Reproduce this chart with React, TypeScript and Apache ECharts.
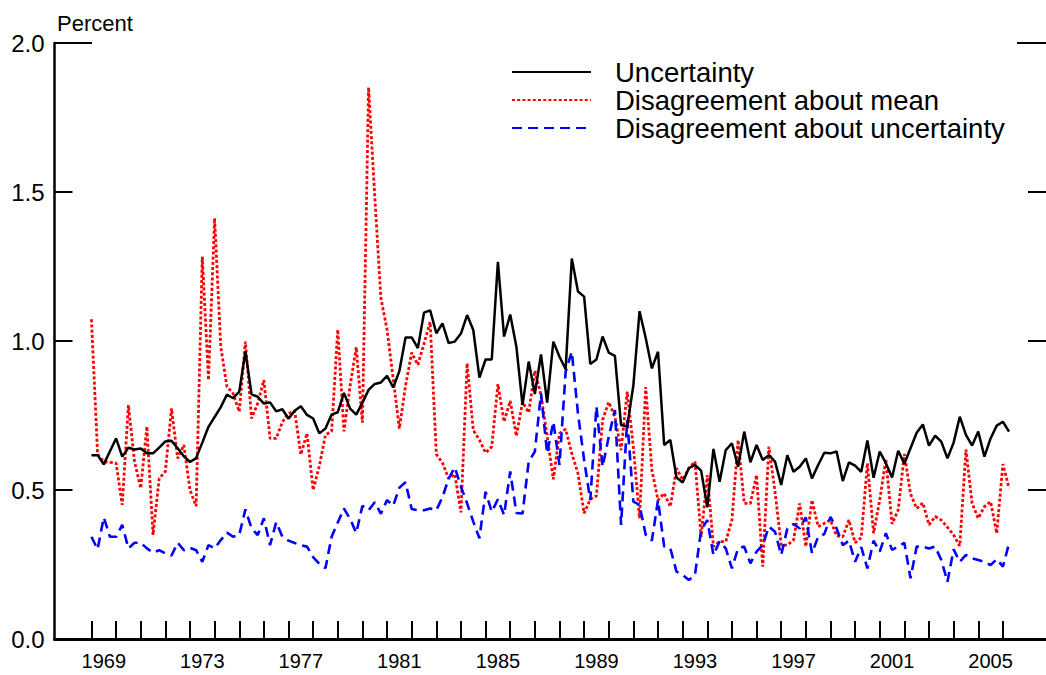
import React, { useEffect, useRef } from "react";
import * as echarts from "echarts";

const FONT = "'Liberation Sans', Arial, Helvetica, sans-serif";
const START_YEAR = 1969;

// Quarterly values, 1969Q1 .. 2006Q2 (percent)
const uncertainty = [
  0.617, 0.617, 0.586, 0.63, 0.673, 0.612, 0.642, 0.636, 0.639, 0.623,
  0.623, 0.642, 0.663, 0.665, 0.64, 0.613, 0.594, 0.607, 0.659, 0.712,
  0.745, 0.778, 0.82, 0.808, 0.83, 0.965, 0.821, 0.813, 0.79, 0.794,
  0.764, 0.771, 0.739, 0.766, 0.781, 0.752, 0.74, 0.69, 0.706, 0.753,
  0.761, 0.826, 0.773, 0.753, 0.793, 0.836, 0.856, 0.861, 0.883, 0.844,
  0.899, 1.012, 1.012, 0.976, 1.095, 1.103, 1.026, 1.059, 0.993, 0.998,
  1.025, 1.087, 1.037, 0.877, 0.938, 0.938, 1.266, 1.015, 1.089, 0.981,
  0.785, 0.931, 0.822, 0.955, 0.793, 0.998, 0.947, 0.905, 1.277, 1.166,
  1.149, 0.923, 0.938, 1.015, 0.961, 0.95, 0.718, 0.713, 0.852, 1.1,
  1.01, 0.908, 0.964, 0.651, 0.668, 0.542, 0.525, 0.573, 0.584, 0.565,
  0.442, 0.638, 0.528, 0.634, 0.657, 0.578, 0.696, 0.593, 0.651, 0.601,
  0.617, 0.595, 0.517, 0.617, 0.561, 0.578, 0.606, 0.539, 0.584, 0.625,
  0.623, 0.629, 0.53, 0.593, 0.582, 0.561, 0.666, 0.541, 0.629, 0.59,
  0.542, 0.632, 0.588, 0.64, 0.692, 0.72, 0.649, 0.682, 0.662, 0.606,
  0.659, 0.746, 0.685, 0.649, 0.696, 0.612, 0.673, 0.716, 0.729, 0.696,
];

const disagreementMean = [
  1.073, 0.62, 0.595, 0.593, 0.59, 0.45, 0.785, 0.595, 0.506, 0.713,
  0.349, 0.539, 0.562, 0.774, 0.606, 0.651, 0.5, 0.446, 1.283, 0.869,
  1.412, 0.981, 0.847, 0.824, 0.763, 0.998, 0.74, 0.791, 0.869, 0.673,
  0.673, 0.728, 0.757, 0.765, 0.619, 0.69, 0.5, 0.58, 0.685, 0.697,
  1.038, 0.697, 0.85, 0.979, 0.726, 1.851, 1.486, 1.144, 1.038, 0.873,
  0.706, 0.85, 0.961, 0.92, 0.991, 1.064, 0.62, 0.591, 0.538, 0.553,
  0.425, 0.925, 0.701, 0.668, 0.625, 0.645, 0.855, 0.729, 0.799, 0.681,
  0.795, 0.76, 0.9, 0.819, 0.681, 0.536, 0.69, 0.704, 0.623, 0.556,
  0.422, 0.469, 0.48, 0.735, 0.795, 0.746, 0.634, 0.83, 0.642, 0.405,
  0.845, 0.567, 0.466, 0.489, 0.444, 0.573, 0.534, 0.573, 0.595, 0.343,
  0.55, 0.31, 0.327, 0.327, 0.399, 0.668, 0.455, 0.455, 0.55, 0.243,
  0.645, 0.494, 0.315, 0.315, 0.332, 0.455, 0.31, 0.466, 0.377, 0.388,
  0.399, 0.346, 0.343, 0.399, 0.323, 0.34, 0.59, 0.355, 0.466, 0.603,
  0.386, 0.433, 0.621, 0.487, 0.438, 0.457, 0.383, 0.411, 0.399, 0.375,
  0.349, 0.312, 0.636, 0.455, 0.405, 0.444, 0.461, 0.355, 0.587, 0.506,
];

const disagreementUncertainty = [
  0.343, 0.301, 0.408, 0.343, 0.343, 0.383, 0.304, 0.323, 0.323, 0.304,
  0.29, 0.298, 0.287, 0.28, 0.323, 0.298, 0.306, 0.298, 0.259, 0.315,
  0.304, 0.332, 0.357, 0.343, 0.349, 0.435, 0.371, 0.349, 0.405, 0.315,
  0.392, 0.343, 0.33, 0.322, 0.315, 0.31, 0.275, 0.252, 0.238, 0.343,
  0.391, 0.438, 0.403, 0.356, 0.447, 0.432, 0.459, 0.42, 0.466, 0.447,
  0.508, 0.526, 0.436, 0.432, 0.432, 0.438, 0.432, 0.476, 0.538, 0.576,
  0.511, 0.455, 0.394, 0.338, 0.494, 0.427, 0.469, 0.416, 0.562, 0.423,
  0.421, 0.595, 0.629, 0.824, 0.623, 0.729, 0.584, 0.897, 0.964, 0.757,
  0.601, 0.466, 0.78, 0.578, 0.679, 0.768, 0.383, 0.735, 0.461, 0.45,
  0.35, 0.33, 0.466, 0.31, 0.304, 0.226, 0.215, 0.198, 0.215, 0.366,
  0.399, 0.282, 0.327, 0.304, 0.237, 0.304, 0.31, 0.254, 0.293, 0.315,
  0.377, 0.36, 0.282, 0.371, 0.386, 0.371, 0.408, 0.288, 0.343, 0.352,
  0.41, 0.371, 0.315, 0.33, 0.259, 0.308, 0.237, 0.33, 0.293, 0.355,
  0.299, 0.31, 0.323, 0.204, 0.31, 0.31, 0.304, 0.31, 0.265, 0.192,
  0.301, 0.259, 0.282, 0.271, 0.265, 0.259, 0.248, 0.268, 0.243, 0.321,
];

const yearTicks = [
  1969, 1970, 1971, 1972, 1973, 1974, 1975, 1976, 1977, 1978, 1979, 1980,
  1981, 1982, 1983, 1984, 1985, 1986, 1987, 1988, 1989, 1990, 1991, 1992,
  1993, 1994, 1995, 1996, 1997, 1998, 1999, 2000, 2001, 2002, 2003, 2004,
  2005, 2006,
];
const yearLabels = [1969, 1973, 1977, 1981, 1985, 1989, 1993, 1997, 2001, 2005];

const NAMES = [
  "Uncertainty",
  "Disagreement about mean",
  "Disagreement about uncertainty",
];

const toPairs = (arr: number[]) =>
  arr.map((v, i) => [START_YEAR + i / 4, v]);

export default function App() {
  const ref = useRef<HTMLDivElement>(null);

  useEffect(() => {
    if (!ref.current) return;
    const chart = echarts.init(ref.current, undefined, { renderer: "svg" });
    const option: any = {
      animation: false,
      textStyle: { fontFamily: FONT, color: "#000" },
      title: {
        text: "Percent",
        left: 57,
        top: 12,
        padding: 0,
        textStyle: {
          fontFamily: FONT,
          fontSize: 22,
          fontWeight: "normal",
          color: "#000",
        },
      },
      grid: { left: 54.5, top: 43, width: 998, height: 596 },
      legend: {
        orient: "vertical",
        left: 511,
        top: 58,
        padding: 0,
        itemWidth: 79,
        itemHeight: 14,
        itemGap: 0,
        data: NAMES,
        itemStyle: { opacity: 0 },
        textStyle: {
          fontFamily: FONT,
          fontSize: 27.5,
          lineHeight: 26,
          color: "#000",
          padding: [0, 0, 0, 19],
        },
      },
      xAxis: {
        type: "value",
        min: 1967.5,
        max: 2007.75,
        axisLine: { show: true, lineStyle: { color: "#000", width: 3 } },
        axisTick: {
          show: true,
          inside: true,
          length: 18,
          customValues: yearTicks,
          lineStyle: { color: "#000", width: 2 },
        },
        axisLabel: {
          customValues: yearLabels.map((y) => y + 0.5),
          formatter: (v: number) => String(Math.floor(v)),
          fontFamily: FONT,
          fontSize: 20,
          color: "#000",
          margin: 12,
        },
        splitLine: { show: false },
      },
      yAxis: [
        {
          type: "value",
          min: 0,
          max: 2,
          interval: 0.5,
          position: "left",
          axisLine: { show: true, lineStyle: { color: "#000", width: 2.5 } },
          axisTick: {
            show: true,
            inside: true,
            length: 18,
            lineStyle: { color: "#000", width: 2 },
          },
          axisLabel: {
            formatter: (v: number) => v.toFixed(1),
            fontFamily: FONT,
            fontSize: 24,
            color: "#000",
            margin: 10,
          },
          splitLine: { show: false },
        },
        {
          type: "value",
          min: 0,
          max: 2,
          interval: 0.5,
          position: "right",
          axisLine: { show: false },
          axisTick: {
            show: true,
            inside: true,
            length: 18,
            lineStyle: { color: "#000", width: 2 },
          },
          axisLabel: { show: false },
          splitLine: { show: false },
        },
      ],
      graphic: [
        {
          type: "line",
          shape: { x1: 54, y1: 43, x2: 92, y2: 43 },
          style: { stroke: "#000", lineWidth: 2 },
        },
        {
          type: "line",
          shape: { x1: 1017, y1: 43, x2: 1052, y2: 43 },
          style: { stroke: "#000", lineWidth: 2 },
        },
      ],
      series: [
        {
          name: NAMES[1],
          type: "line",
          symbol: "none",
          showSymbol: false,
          data: toPairs(disagreementMean),
          lineStyle: { color: "#ff0000", width: 2.8, type: [3, 2.2] },
          itemStyle: { color: "#ff0000" },
          z: 2,
        },
        {
          name: NAMES[2],
          type: "line",
          symbol: "none",
          showSymbol: false,
          data: toPairs(disagreementUncertainty),
          lineStyle: { color: "#0000ff", width: 2.6, type: [10, 6] },
          itemStyle: { color: "#0000ff" },
          z: 3,
        },
        {
          name: NAMES[0],
          type: "line",
          symbol: "none",
          showSymbol: false,
          data: toPairs(uncertainty),
          lineStyle: { color: "#000", width: 2.5, type: "solid" },
          itemStyle: { color: "#000" },
          z: 4,
        },
      ],
    };
    chart.setOption(option);
    return () => chart.dispose();
  }, []);

  return (
    <div
      ref={ref}
      style={{
        position: "absolute",
        left: 0,
        top: 0,
        width: 1046,
        height: 675,
        background: "#fff",
      }}
    />
  );
}
